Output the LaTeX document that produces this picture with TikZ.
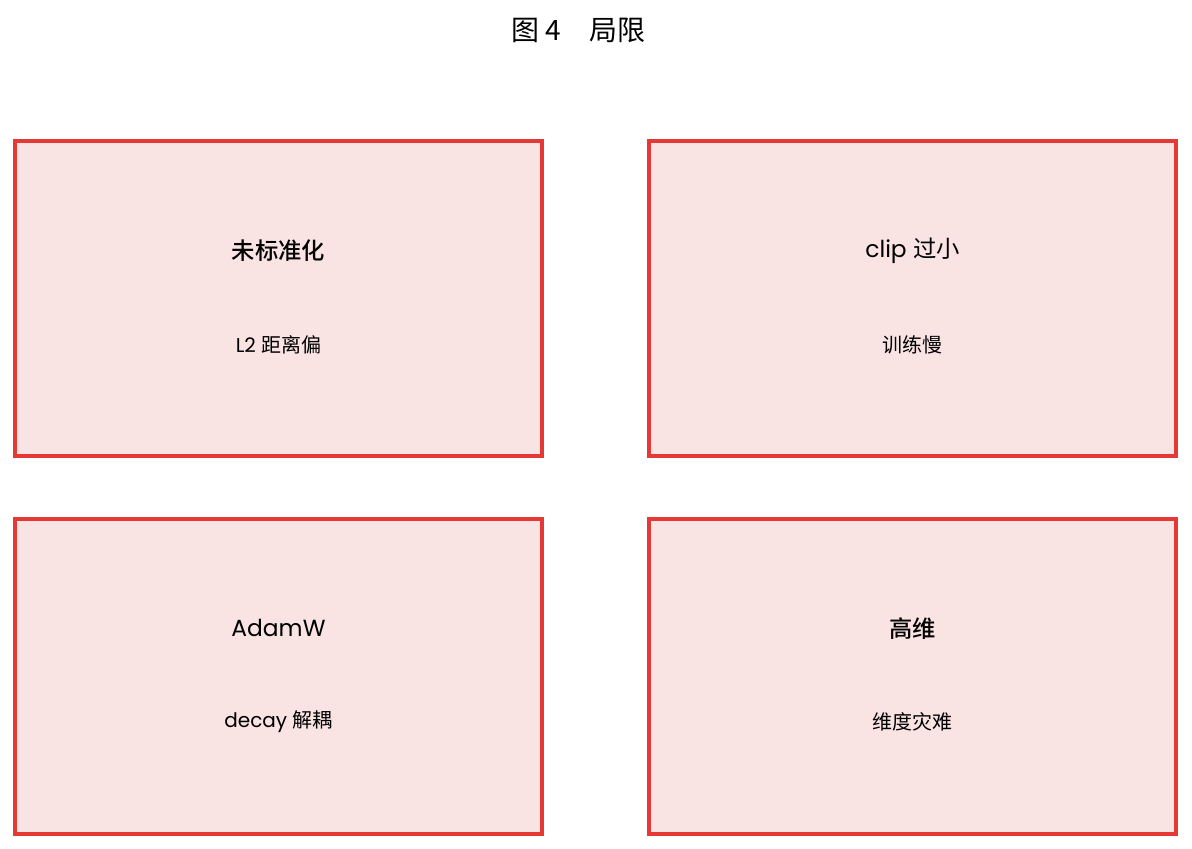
\documentclass[tikz,border=0pt]{standalone}
\usepackage{fontspec}
\setmainfont{Poppins}
\newfontfamily\cjk{Noto Sans CJK SC}
\newfontfamily\cjkmed{Noto Sans CJK SC Medium}
\usetikzlibrary{positioning}
\definecolor{limred}{HTML}{E53935}
\definecolor{limfill}{HTML}{F9E3E3}
\tikzstyle{limbox} = [rectangle, minimum width=395.25pt, minimum height=236.5pt, draw=limred, line width=3pt, fill=limfill]
\tikzstyle{head} = [text=black, font=\fontsize{17.5}{20}\selectfont, inner sep=0pt]
\tikzstyle{sub} = [text=black, font=\fontsize{15}{17}\selectfont, inner sep=0pt]

\begin{document}
\begin{tikzpicture}[x=0.75pt, y=-0.75pt]
\useasboundingbox (0,0) rectangle (1192,849);

\node (title) [inner sep=0pt, font=\fontsize{21}{24}\selectfont] at (578.5,30) {\cjk 图 4\hspace{1em}局限};

\node (box1) [limbox] at (278.5,298.5) {};
\node (box2) [limbox] at (912.5,298.5) {};
\node (box3) [limbox] at (278.5,676.25) {};
\node (box4) [limbox] at (912.5,676.25) {};

\node (head1) [head] at (278.5,251) {\cjkmed 未标准化};
\node (sub1) [sub] at (278.5,345) {L2 {\cjk 距离偏}};
\node (head2) [head] at (912.5,251) {clip {\cjk 过小}};
\node (sub2) [sub] at (912.5,345) {\cjk 训练慢};
\node (head3) [head] at (278.5,628) {AdamW};
\node (sub3) [sub] at (278.5,722) {decay {\cjk 解耦}};
\node (head4) [head] at (912.5,629) {\cjkmed 高维};
\node (sub4) [sub] at (912.5,722) {\cjk 维度灾难};

\end{tikzpicture}
\end{document}
